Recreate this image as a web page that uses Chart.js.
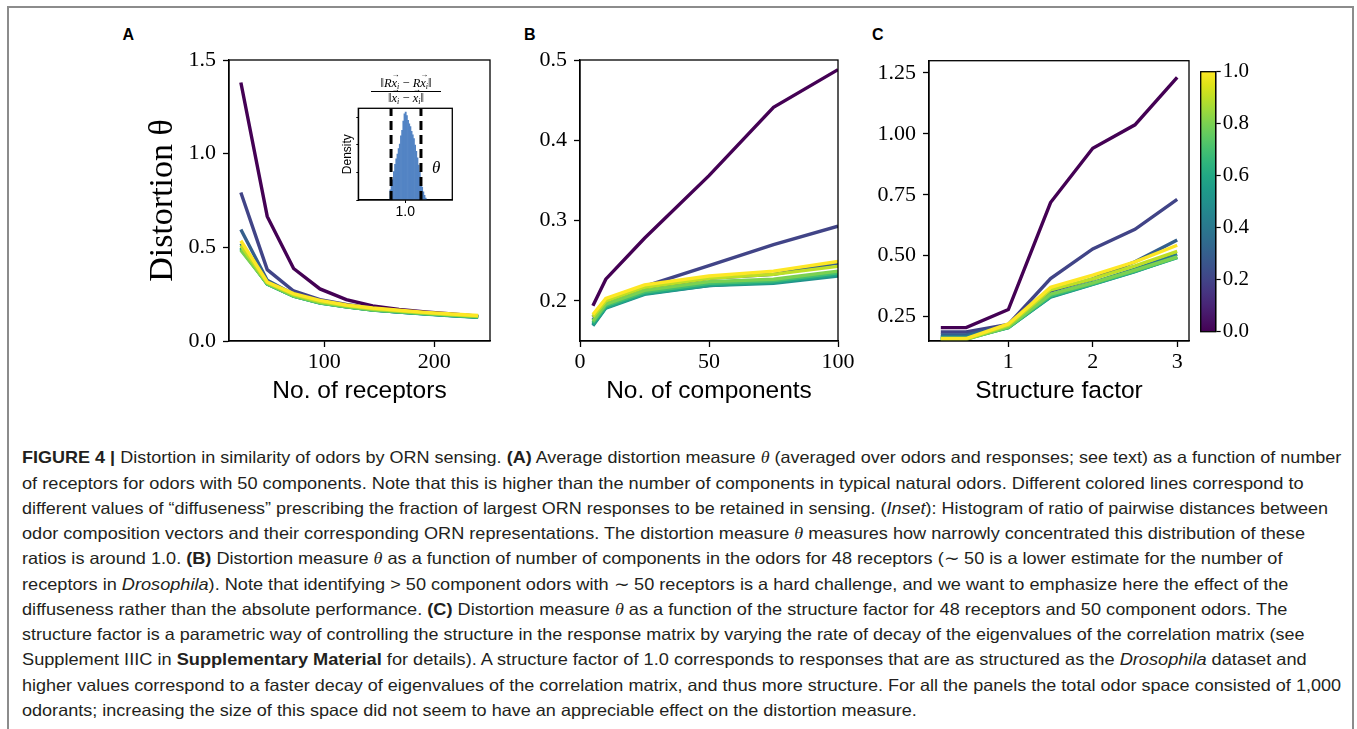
<!DOCTYPE html>
<html>
<head>
<meta charset="utf-8">
<script src="https://cdn.jsdelivr.net/npm/chart.js"></script>
<style>
  body { margin: 0; background: #fff; width: 1357px; height: 729px; overflow: hidden; position: relative; }
  canvas { position: absolute; }
  .frame { position: absolute; left: 7px; top: 6px; width: 1347px; height: 760px; border: 2px solid #8c8c8c; border-bottom: none; box-sizing: border-box; }
  .letter { position: absolute; font: bold 16px "Liberation Sans", Arial, sans-serif; line-height: 16px; color: #000; }
  .cap { position: absolute; left: 22px; white-space: nowrap; font-family: "Liberation Sans Narrow", "Liberation Sans", Arial, sans-serif; font-size: 16.5px; line-height: 20px; color: #231f20; transform-origin: 0 50%; }
  .cap .t { font-family: "Liberation Serif", serif; font-style: italic; }
  .frac { position: absolute; left: 371px; top: 77px; width: 70px; text-align: center; font: 12.5px "Liberation Serif", serif; line-height: 13px; }
  .frac .num { border-bottom: 1.4px solid #000; padding-bottom: 1px; }
  .frac sub { font-size: 8px; font-style: italic; vertical-align: -2px; line-height: 0; }
  .vec { position: relative; display: inline-block; font-style: italic; }
  .vec::after { content: "\2192"; position: absolute; left: 0; top: -6px; font-size: 8px; font-style: normal; line-height: 8px; }
  .theta { position: absolute; left: 432px; top: 158px; font: italic 17px "Liberation Serif", serif; }
</style>
</head>
<body>
<div class="frame"></div>

<div class="letter" style="left:122.5px;top:27px">A</div>
<div class="letter" style="left:524px;top:27px">B</div>
<div class="letter" style="left:872px;top:27px">C</div>

<canvas id="panelA" width="400" height="390" style="left:100px;top:20px"></canvas>
<canvas id="panelB" width="400" height="390" style="left:490px;top:20px"></canvas>
<canvas id="panelC" width="360" height="390" style="left:840px;top:20px"></canvas>
<canvas id="cbar" width="80" height="390" style="left:1190px;top:20px"></canvas>
<canvas id="inset" width="130" height="125" style="left:330px;top:100px"></canvas>

<div class="frac">
  <div class="num">‖<i>R</i><span class="vec">x</span><sub>i</sub> − <i>R</i><span class="vec">x</span><sub>i</sub>‖</div>
  <div>‖<span class="vec">x</span><sub>i</sub> − <span class="vec">x</span><sub>i</sub>‖</div>
</div>
<div class="theta">θ</div>

<div class="cap"><b>FIGURE 4 |</b> Distortion in similarity of odors by ORN sensing. <b>(A)</b> Average distortion measure <i class="t">θ</i> (averaged over odors and responses; see text) as a function of number</div>
<div class="cap">of receptors for odors with 50 components. Note that this is higher than the number of components in typical natural odors. Different colored lines correspond to</div>
<div class="cap">different values of “diffuseness” prescribing the fraction of largest ORN responses to be retained in sensing. (<i>Inset</i>): Histogram of ratio of pairwise distances between</div>
<div class="cap">odor composition vectors and their corresponding ORN representations. The distortion measure <i class="t">θ</i> measures how narrowly concentrated this distribution of these</div>
<div class="cap">ratios is around 1.0. <b>(B)</b> Distortion measure <i class="t">θ</i> as a function of number of components in the odors for 48 receptors (∼ 50 is a lower estimate for the number of</div>
<div class="cap">receptors in <i>Drosophila</i>). Note that identifying &gt; 50 component odors with ∼ 50 receptors is a hard challenge, and we want to emphasize here the effect of the</div>
<div class="cap">diffuseness rather than the absolute performance. <b>(C)</b> Distortion measure <i class="t">θ</i> as a function of the structure factor for 48 receptors and 50 component odors. The</div>
<div class="cap">structure factor is a parametric way of controlling the structure in the response matrix by varying the rate of decay of the eigenvalues of the correlation matrix (see</div>
<div class="cap">Supplement IIIC in <b>Supplementary Material</b> for details). A structure factor of 1.0 corresponds to responses that are as structured as the <i>Drosophila</i> dataset and</div>
<div class="cap">higher values correspond to a faster decay of eigenvalues of the correlation matrix, and thus more structure. For all the panels the total odor space consisted of 1,000</div>
<div class="cap">odorants; increasing the size of this space did not seem to have an appreciable effect on the distortion measure.</div>

<script>
// ---------------------------------------------------------------- data

// diffuseness value of each line (colour from viridis)
const diffuseness = [0.0, 0.2, 0.3, 0.4, 0.5, 0.6, 0.7, 0.8, 0.9, 1.0];

// panel A - distortion vs number of receptors
const receptors = [24, 48, 72, 96, 120, 144, 168, 192, 216, 240];
const thetaReceptors = [
  [1.38, 0.665, 0.387, 0.278, 0.221, 0.187, 0.168, 0.155, 0.144, 0.132],
  [0.793, 0.381, 0.267, 0.221, 0.195, 0.175, 0.160, 0.150, 0.140, 0.130],
  [0.595, 0.324, 0.250, 0.210, 0.188, 0.170, 0.157, 0.147, 0.138, 0.129],
  [0.52, 0.310, 0.243, 0.206, 0.184, 0.167, 0.155, 0.145, 0.136, 0.128],
  [0.50, 0.305, 0.240, 0.204, 0.183, 0.165, 0.154, 0.144, 0.135, 0.127],
  [0.495, 0.304, 0.239, 0.203, 0.182, 0.165, 0.155, 0.145, 0.136, 0.128],
  [0.49, 0.305, 0.240, 0.204, 0.183, 0.166, 0.156, 0.146, 0.137, 0.129],
  [0.485, 0.306, 0.241, 0.205, 0.184, 0.167, 0.157, 0.147, 0.138, 0.130],
  [0.51, 0.311, 0.247, 0.211, 0.189, 0.172, 0.161, 0.150, 0.141, 0.133],
  [0.535, 0.315, 0.253, 0.217, 0.192, 0.176, 0.164, 0.153, 0.144, 0.136]
];

// panel B - distortion vs number of components
const components = [5, 10, 25, 50, 75, 100];
const thetaComponents = [
  [0.194, 0.227, 0.278, 0.356, 0.441, 0.488],
  [0.180, 0.201, 0.218, 0.244, 0.270, 0.293],
  [0.176, 0.198, 0.215, 0.228, 0.233, 0.247],
  [0.170, 0.192, 0.209, 0.219, 0.224, 0.233],
  [0.169, 0.191, 0.208, 0.219, 0.222, 0.231],
  [0.171, 0.192, 0.209, 0.220, 0.223, 0.233],
  [0.173, 0.194, 0.211, 0.222, 0.225, 0.235],
  [0.175, 0.196, 0.213, 0.224, 0.227, 0.237],
  [0.180, 0.200, 0.217, 0.228, 0.233, 0.243],
  [0.183, 0.203, 0.220, 0.231, 0.237, 0.249]
];

// panel C - distortion vs structure factor
const structure = [0.2, 0.5, 1, 1.5, 2, 2.5, 3];
const thetaStructure = [
  [0.205, 0.205, 0.279, 0.718, 0.941, 1.037, 1.232],
  [0.187, 0.187, 0.218, 0.406, 0.528, 0.608, 0.731],
  [0.175, 0.175, 0.214, 0.355, 0.405, 0.475, 0.564],
  [0.168, 0.168, 0.210, 0.340, 0.390, 0.445, 0.505],
  [0.163, 0.163, 0.206, 0.330, 0.382, 0.435, 0.495],
  [0.160, 0.160, 0.205, 0.332, 0.383, 0.436, 0.492],
  [0.158, 0.158, 0.206, 0.336, 0.385, 0.438, 0.493],
  [0.157, 0.157, 0.208, 0.342, 0.388, 0.441, 0.495],
  [0.158, 0.158, 0.215, 0.360, 0.405, 0.458, 0.518],
  [0.160, 0.160, 0.220, 0.370, 0.420, 0.475, 0.543]
];

// inset - histogram of distance ratios
const histBins = [0.905, 0.9125, 0.92, 0.9275, 0.935, 0.9425, 0.95, 0.9575, 0.965, 0.9725, 0.98,
  0.9875, 0.995, 1.0025, 1.01, 1.0175, 1.025, 1.0325, 1.04, 1.0475, 1.055, 1.0625, 1.07,
  1.0775, 1.085, 1.0925, 1.10, 1.1075, 1.115, 1.1225, 1.13];
const histDensity = [1.1, 1.5, 2.2, 3.1, 3.9, 4.5, 5.0, 5.6, 6.1, 7.0, 7.6, 8.6, 9.4, 9.6, 9.2,
  8.7, 8.3, 8.0, 7.5, 7.1, 6.7, 6.0, 5.3, 4.6, 3.8, 3.1, 2.2, 1.4, 0.9, 0.5, 0.2];
const thetaMarks = [0.909, 1.10];

// tick labels
const ticksAx = [100, 200], ticksAy = [0, 0.5, 1.0, 1.5];
const ticksBx = [0, 50, 100], ticksBy = [0.2, 0.3, 0.4, 0.5];
const ticksCx = [1, 2, 3], ticksCy = [0.25, 0.5, 0.75, 1.0, 1.25];
const ticksBar = [0, 0.2, 0.4, 0.6, 0.8, 1.0];
const ticksInsetX = [1.0], ticksInsetY = [0, 1.5, 3, 4.5, 6, 7.5, 9];

// ---------------------------------------------------------------- helpers

const SERIF = '"Liberation Serif", serif';
const SANS = '"Liberation Sans", Arial, sans-serif';

// viridis colormap stops
const VIRIDIS = ['#440154', '#471365', '#482475', '#463480', '#414487', '#3b528b', '#355f8d',
  '#2f6c8e', '#2a788e', '#25848e', '#21918c', '#1e9c89', '#22a884', '#2fb47c', '#44bf70',
  '#5ec962', '#7ad151', '#9bd93c', '#bddf26', '#dfe318', '#fde725'];

function viridis(t) {
  const f = t * (VIRIDIS.length - 1);
  const i = Math.min(Math.floor(f), VIRIDIS.length - 2);
  const k = f - i;
  const a = VIRIDIS[i], b = VIRIDIS[i + 1];
  const ch = (s, o) => parseInt(s.substr(o, 2), 16);
  const mix = o => Math.round(ch(a, o) + (ch(b, o) - ch(a, o)) * k);
  return 'rgb(' + mix(1) + ',' + mix(3) + ',' + mix(5) + ')';
}

// black frame round the plot area (matplotlib spines)
const boxPlugin = {
  id: 'box',
  afterDraw(chart) {
    const a = chart.chartArea, c = chart.ctx;
    c.save();
    c.strokeStyle = '#000';
    c.lineWidth = 1.3;
    c.strokeRect(a.left, a.top, a.right - a.left, a.bottom - a.top);
    c.restore();
  }
};

function axis(min, max, ticks, fmt, extra, pad) {
  return Object.assign({
    type: 'linear', min: min, max: max,
    afterBuildTicks: s => { s.ticks = ticks.map(v => ({ value: v })); },
    ticks: { callback: v => fmt(v), font: { family: SERIF, size: 22 }, color: '#000', padding: pad, maxRotation: 0, autoSkip: false },
    grid: { drawOnChartArea: false, drawTicks: true, tickLength: 6, tickWidth: 1.3, tickColor: '#000' },
    border: { display: true, color: '#000', width: 1.3 }
  }, extra);
}

function xTitle(text) {
  return { display: true, text: text, color: '#000', font: { family: SANS, size: 24.5 }, padding: { top: 0, bottom: 4 } };
}

function linePanel(id, xs, rows, xAxis, yAxis, pad) {
  return new Chart(document.getElementById(id), {
    type: 'line',
    data: {
      datasets: rows.map((row, i) => ({
        data: xs.map((x, j) => ({ x: x, y: row[j] })),
        borderColor: viridis(diffuseness[i]),
        borderWidth: 3.4,
        pointRadius: 0,
        tension: 0,
        fill: false,
        order: rows.length - i
      }))
    },
    options: {
      responsive: false, animation: false, devicePixelRatio: 1,
      layout: { padding: pad },
      plugins: { legend: { display: false }, tooltip: { enabled: false } },
      scales: { x: xAxis, y: yAxis }
    },
    plugins: [boxPlugin]
  });
}

// ---------------------------------------------------------------- panel A
linePanel('panelA', receptors, thetaReceptors,
  axis(13.2, 250.8, ticksAx, v => String(v), { title: xTitle('No. of receptors'), afterFit: s => { s.height = 69; } }, 2),
  axis(0, 1.5, ticksAy, v => v.toFixed(1), {
    title: { display: true, text: 'Distortion θ', color: '#000', font: { family: SERIF, size: 34 }, padding: { top: 4, bottom: 4 } },
    afterFit: s => { s.width = 90; }
  }, 7),
  { left: 39, top: 40, right: 10, bottom: 0 });

// ---------------------------------------------------------------- panel B
linePanel('panelB', components, thetaComponents,
  axis(0, 100, ticksBx, v => String(v), { title: xTitle('No. of components'), afterFit: s => { s.height = 69; } }, 2),
  axis(0.15, 0.5, ticksBy, v => v.toFixed(1), { afterFit: s => { s.width = 90; } }, 7),
  { left: 0, top: 40, right: 52, bottom: 0 });

// ---------------------------------------------------------------- panel C
linePanel('panelC', structure, thetaStructure,
  axis(0.06, 3.14, ticksCx, v => String(v), { title: xTitle('Structure factor'), afterFit: s => { s.height = 69; } }, 2),
  axis(0.15, 1.30, ticksCy, v => v.toFixed(2), { afterFit: s => { s.width = 89; } }, 7),
  { left: 0, top: 40.7, right: 11, bottom: 0 });

// ---------------------------------------------------------------- colorbar
new Chart(document.getElementById('cbar'), {
  type: 'bar',
  data: {
    labels: ['diffuseness'],
    datasets: [{
      data: [[ticksBar[0], ticksBar[ticksBar.length - 1]]],
      barPercentage: 1, categoryPercentage: 1, borderWidth: 0,
      backgroundColor: ctx => {
        const ch = ctx.chart, a = ch.chartArea;
        if (!a) return '#21918c';
        const g = ch.ctx.createLinearGradient(0, a.bottom, 0, a.top);
        VIRIDIS.forEach((c, i) => g.addColorStop(i / (VIRIDIS.length - 1), c));
        return g;
      }
    }]
  },
  options: {
    responsive: false, animation: false, devicePixelRatio: 1,
    layout: { padding: { left: 10.7, top: 51.7, right: 0, bottom: 78.3 } },
    plugins: { legend: { display: false }, tooltip: { enabled: false } },
    scales: {
      x: { display: false },
      y: axis(0, 1, ticksBar, v => v.toFixed(1), {
        position: 'right',
        ticks: { callback: v => v.toFixed(1), font: { family: SERIF, size: 21 }, color: '#000', padding: 2, autoSkip: false },
        grid: { drawOnChartArea: false, drawTicks: true, tickLength: 5, tickWidth: 1.2, tickColor: '#000' },
        afterFit: s => { s.width = 54.3; }
      }, 2)
    }
  },
  plugins: [boxPlugin]
});

// ---------------------------------------------------------------- inset histogram
new Chart(document.getElementById('inset'), {
  type: 'bar',
  data: {
    datasets: [
      {
        type: 'bar',
        data: histBins.map((x, i) => ({ x: x, y: histDensity[i] })),
        backgroundColor: '#5384c4', borderWidth: 0,
        barPercentage: 1, categoryPercentage: 1, order: 2
      }
    ].concat(thetaMarks.map(m => ({
      type: 'line',
      data: [{ x: m, y: 0 }, { x: m, y: 10 }],
      borderColor: '#000', borderWidth: 3, borderDash: [9, 5],
      pointRadius: 0, order: 1
    })))
  },
  options: {
    responsive: false, animation: false, devicePixelRatio: 1,
    layout: { padding: { left: 6, top: 8.3, right: 7.7, bottom: 0 } },
    plugins: { legend: { display: false }, tooltip: { enabled: false } },
    scales: {
      x: {
        type: 'linear', min: 0.7, max: 1.3, offset: false,
        afterBuildTicks: s => { s.ticks = ticksInsetX.map(v => ({ value: v })); },
        ticks: { callback: v => v.toFixed(1), font: { family: SANS, size: 14 }, color: '#000', padding: 1, maxRotation: 0 },
        grid: { offset: false, drawOnChartArea: false, tickLength: 3, tickColor: '#000' },
        border: { color: '#000', width: 1.2 },
        afterFit: s => { s.height = 25; }
      },
      y: {
        type: 'linear', min: 0, max: 10,
        afterBuildTicks: s => { s.ticks = ticksInsetY.map(v => ({ value: v })); },
        ticks: { callback: () => '', padding: 0 },
        grid: { drawOnChartArea: false, tickLength: 2, tickColor: '#000' },
        border: { color: '#000', width: 1.2 },
        title: { display: true, text: 'Density', color: '#000', font: { family: SANS, size: 12 }, padding: { top: 4, bottom: 0 } },
        afterFit: s => { s.width = 22.3; }
      }
    }
  },
  plugins: [boxPlugin]
});

// ---------------------------------------------------------------- caption layout
const capMid = [457, 483, 508, 533, 558, 584, 609, 634, 659, 685, 710];
const capRight = [1341, 1304, 1328, 1305, 1282, 1289, 1287, 1305, 1307, 1341, 917];
document.querySelectorAll('.cap').forEach((el, i) => {
  el.style.top = (capMid[i] - 10) + 'px';
  const w = el.offsetWidth;
  el.style.transform = 'scaleX(' + ((capRight[i] - 22) / w) + ')';
});
</script>
</body>
</html>
